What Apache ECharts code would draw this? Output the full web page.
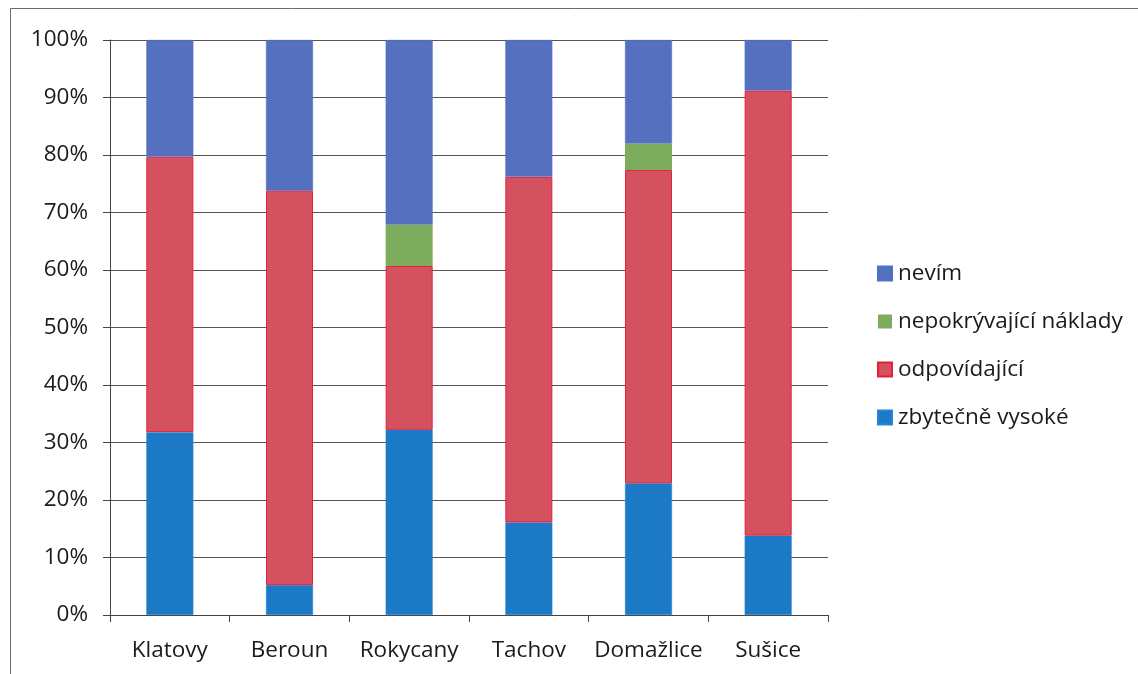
<!DOCTYPE html>
<html><head><meta charset="utf-8">
<script src="https://cdn.jsdelivr.net/npm/echarts@6/dist/echarts.min.js"></script>
<style>html,body{margin:0;padding:0;background:#fff}#c{width:1138px;height:674px}</style>
</head><body><div id="c"></div>
<script>
const categories = ['Klatovy', 'Beroun', 'Rokycany', 'Tachov', 'Domažlice', 'Sušice'];
const zbytecneVysoke = [31.8, 5.2, 32.2, 16.1, 22.9, 13.8];
const odpovidajici = [47.9, 68.6, 28.5, 60.1, 54.5, 77.4];
const nepokryvajici = [0, 0, 7.2, 0, 4.6, 0];
const nevim = [20.3, 26.2, 32.1, 23.8, 18.0, 8.8];
const yTicks = [0, 10, 20, 30, 40, 50, 60, 70, 80, 90, 100];

const chart = echarts.init(document.getElementById('c'), null, {renderer: 'canvas'});
const font = '"Open Sans", "Liberation Sans", sans-serif';
const barW = 47;
chart.setOption({
  animation: false,
  backgroundColor: '#fff',
  graphic: [{
    type: 'rect', shape: {x: 10.5, y: 8.5, width: 1300, height: 800},
    style: {fill: 'none', stroke: '#6b6b6b', lineWidth: 1}, silent: true
  }],
  grid: {left: 110, right: 310, top: 40, bottom: 59, containLabel: false},
  legend: {
    orient: 'vertical', left: 872, top: 257,
    itemWidth: 14, itemHeight: 14, itemGap: 25,
    icon: 'rect',
    textStyle: {fontFamily: font, fontSize: 22.5, lineHeight: 23, color: '#1a1a1a', padding: [0, 0, 0, 1]},
    data: ['nevím', 'nepokrývající náklady', 'odpovídající', 'zbytečně vysoké']
  },
  xAxis: {
    type: 'category', data: categories,
    axisLine: {lineStyle: {color: '#444', width: 1}},
    axisTick: {show: true, length: 7, lineStyle: {color: '#444'}, alignWithLabel: false},
    axisLabel: {fontFamily: font, fontSize: 22.5, color: '#1a1a1a', margin: 24, interval: 0}
  },
  yAxis: {
    type: 'value', min: 0, max: 100, interval: 10,
    axisLine: {show: true, lineStyle: {color: '#444', width: 1}},
    axisTick: {show: true, length: 7, lineStyle: {color: '#444'}},
    splitLine: {show: true, lineStyle: {color: '#555', width: 1}},
    axisLabel: {fontFamily: font, fontSize: 22.5, color: '#1a1a1a', margin: 22,
      formatter: v => yTicks.includes(v) ? v + '%' : ''}
  },
  series: [
    {name: 'zbytečně vysoké', type: 'bar', stack: 's', data: zbytecneVysoke, barWidth: barW,
     itemStyle: {color: '#1b79c6', borderColor: '#2a86d0', borderWidth: 0.5}},
    {name: 'odpovídající', type: 'bar', stack: 's', data: odpovidajici, barWidth: barW,
     itemStyle: {color: '#d4525f', borderColor: '#e41e3c', borderWidth: 1}},
    {name: 'nepokrývající náklady', type: 'bar', stack: 's', data: nepokryvajici, barWidth: barW,
     itemStyle: {color: '#7dac5d'}},
    {name: 'nevím', type: 'bar', stack: 's', data: nevim, barWidth: barW,
     itemStyle: {color: '#5470be', borderColor: '#4e72c8', borderWidth: 0.5}}
  ]
});
</script></body></html>
